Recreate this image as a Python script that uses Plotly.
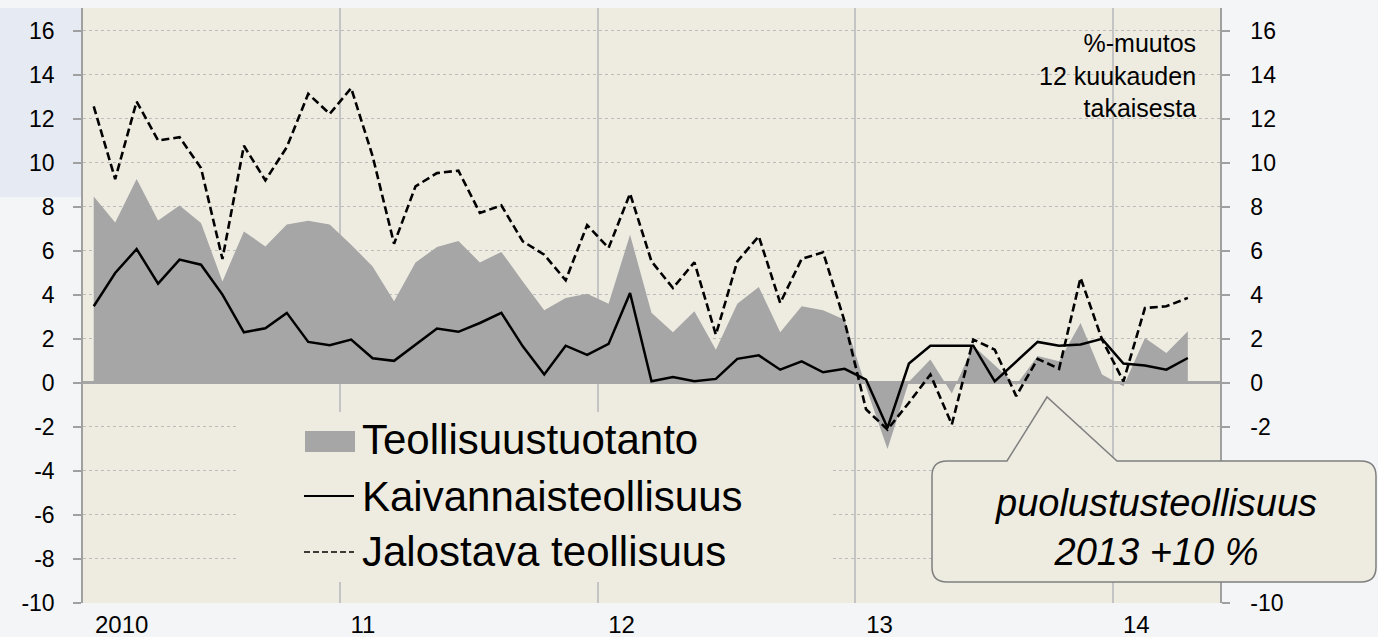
import plotly.graph_objects as go

# ---------------- data (Jan 2010 - Apr 2014, monthly, % change y/y) ----------------
months = [f"{y}-{m:02d}" for y in range(2010, 2015) for m in range(1, 13)][:52]

teollisuustuotanto = [
    8.47, 7.29, 9.26, 7.38, 8.06, 7.26, 4.61, 6.88, 6.20, 7.19, 7.37, 7.19,
    6.28, 5.29, 3.71, 5.47, 6.17, 6.45, 5.47, 5.95, 4.61, 3.30, 3.86, 4.05,
    3.60, 6.73, 3.18, 2.30, 3.25, 1.51, 3.60, 4.36, 2.30, 3.48, 3.30, 2.87,
    -0.20, -3.00, 0.05, 1.06, -0.48, 1.69, 0.80, -0.10, 1.22, 0.98, 2.72, 0.38,
    -0.15, 2.04, 1.36, 2.34,
]
kaivannaisteollisuus = [
    3.48, 4.99, 6.08, 4.51, 5.60, 5.37, 4.01, 2.30, 2.48, 3.18, 1.86, 1.71,
    1.97, 1.12, 1.00, 1.74, 2.47, 2.32, 2.72, 3.18, 1.66, 0.38, 1.69, 1.27,
    1.77, 4.08, 0.07, 0.27, 0.07, 0.18, 1.09, 1.25, 0.60, 0.98, 0.48, 0.64,
    0.15, -2.04, 0.88, 1.69, 1.69, 1.69, 0.07, 0.98, 1.86, 1.69, 1.74, 2.00,
    0.88, 0.79, 0.60, 1.13,
]
jalostava_teollisuus = [
    12.56, 9.26, 12.78, 11.01, 11.16, 9.76, 5.63, 10.77, 9.20, 10.71, 13.13, 12.22,
    13.39, 10.30, 6.32, 8.93, 9.53, 9.64, 7.72, 8.06, 6.43, 5.82, 4.66, 7.17,
    6.13, 8.60, 5.52, 4.31, 5.48, 2.19, 5.52, 6.66, 3.63, 5.63, 5.93, 2.80,
    -1.20, -2.12, -0.90, 0.38, -1.89, 1.97, 1.51, -0.60, 1.09, 0.64, 4.77, 1.97,
    0.07, 3.40, 3.48, 3.86,
]
series_names = ["Teollisuustuotanto", "Kaivannaisteollisuus", "Jalostava teollisuus"]
year_labels = ["2010", "11", "12", "13", "14"]
year_label_pos = [1.3, 12.55, 24.6, 36.63, 48.6]
y_ticks = list(range(-10, 17, 2))
# right-axis labels hidden behind the callout box in the reference
right_hidden = [-4, -6, -8]
unit_note = "%-muutos<br>12 kuukauden<br>takaisesta"
callout_text = "<i>puolustusteollisuus<br>2013 +10 %</i>"

# ---------------- layout geometry ----------------
FIG_W, FIG_H = 1378, 637
ML, MR, MT, MB = 83, 158, 8, 34
PW, PH = FIG_W - ML - MR, FIG_H - MT - MB
X_RANGE = [-0.5, 52.5]
Y_RANGE = [-10, 17.03]
FONT = "Liberation Sans, Arial, sans-serif"
PLOT_BG = "#EEECE1"
GREY_AREA = "#A6A6A6"


def PX(px):
    return (px - ML) / PW


def PY(py):
    return (FIG_H - MB - py) / PH


def XI(px):
    return X_RANGE[0] + (px - ML) / PW * (X_RANGE[1] - X_RANGE[0])


def YV(py):
    return Y_RANGE[0] + (FIG_H - MB - py) / PH * (Y_RANGE[1] - Y_RANGE[0])


x = list(range(len(months)))

fig = go.Figure()
fig.add_trace(go.Scatter(
    x=x, y=teollisuustuotanto, name=series_names[0], mode="lines",
    fill="tozeroy", fillcolor=GREY_AREA, line=dict(width=0, color=GREY_AREA),
    showlegend=False, hoverinfo="skip"))
fig.add_trace(go.Scatter(
    x=x, y=kaivannaisteollisuus, name=series_names[1], mode="lines",
    line=dict(color="black", width=2.5), showlegend=False))
fig.add_trace(go.Scatter(
    x=x, y=jalostava_teollisuus, name=series_names[2], mode="lines",
    line=dict(color="black", width=2.6, dash="8px,4px"), showlegend=False,
    yaxis="y2"))

axis_common = dict(
    range=Y_RANGE, tickvals=y_ticks,
    ticks="outside", ticklen=8, tickwidth=1.5, tickcolor="#A0A0A0",
    showline=True, linecolor="#A0A0A0", linewidth=1.5,
    tickfont=dict(family=FONT, size=23, color="black"),
    fixedrange=True, automargin=False,
)

fig.update_layout(
    width=FIG_W, height=FIG_H,
    margin=dict(l=ML, r=MR, t=MT, b=MB, pad=0, autoexpand=False),
    paper_bgcolor="#F4F5F7", plot_bgcolor=PLOT_BG,
    showlegend=False,
    xaxis=dict(
        range=X_RANGE, tickvals=year_label_pos, ticktext=year_labels,
        ticks="", showgrid=False, zeroline=False, showline=False,
        tickfont=dict(family=FONT, size=24, color="black"),
        ticklabelstandoff=5, automargin=False,
        minor=dict(tick0=-0.5, dtick=12, showgrid=True, gridcolor="#C4C4C4",
                   gridwidth=1.5, ticks=""),
        fixedrange=True,
    ),
    yaxis=dict(
        **axis_common, side="left", ticktext=[str(v) for v in y_ticks],
        showgrid=True, gridcolor="#BDBDBD", gridwidth=1, griddash="dot",
        zeroline=True, zerolinecolor=GREY_AREA, zerolinewidth=2.5,
        ticklabelstandoff=14,
    ),
    yaxis2=dict(
        **axis_common, side="right", overlaying="y",
        ticktext=["" if v in right_hidden else str(v) for v in y_ticks],
        showgrid=False, zeroline=False, ticklabelstandoff=16,
    ),
)

shapes = []
# light-blue block top-left behind labels
shapes.append(dict(type="rect", xref="paper", yref="paper", layer="below",
                   x0=PX(0), x1=PX(ML), y0=PY(197), y1=PY(MT),
                   fillcolor="#E6EAF3", line=dict(width=0)))
# legend background (covers gridlines, below traces)
shapes.append(dict(type="rect", xref="x", yref="y", layer="between",
                   x0=XI(237), x1=XI(832), y0=YV(582), y1=YV(412),
                   fillcolor=PLOT_BG, line=dict(width=0)))
# legend symbols
shapes.append(dict(type="rect", xref="paper", yref="paper", layer="above",
                   x0=PX(305), x1=PX(355), y0=PY(452), y1=PY(431),
                   fillcolor=GREY_AREA, line=dict(width=0)))
shapes.append(dict(type="line", xref="paper", yref="paper", layer="above",
                   x0=PX(304), x1=PX(354), y0=PY(496), y1=PY(496),
                   line=dict(color="black", width=2)))
shapes.append(dict(type="line", xref="paper", yref="paper", layer="above",
                   x0=PX(304), x1=PX(354), y0=PY(552), y1=PY(552),
                   line=dict(color="black", width=1.5, dash="6px,3px")))

# callout box with pointer
bx0, bx1, by0, by1, r = 932, 1376, 461, 582, 15
pts = [
    ("M", bx0 + r, by0), ("L", 1007, by0), ("L", 1047, 397), ("L", 1117, by0),
    ("L", bx1 - r, by0), ("Q", bx1, by0, bx1, by0 + r), ("L", bx1, by1 - r),
    ("Q", bx1, by1, bx1 - r, by1), ("L", bx0 + r, by1), ("Q", bx0, by1, bx0, by1 - r),
    ("L", bx0, by0 + r), ("Q", bx0, by0, bx0 + r, by0),
]
path = ""
for p in pts:
    cmd, coords = p[0], p[1:]
    xy = []
    for i in range(0, len(coords), 2):
        xy.append(f"{PX(coords[i]):.5f},{PY(coords[i + 1]):.5f}")
    path += cmd + " ".join(xy) + " "
path += "Z"
shapes.append(dict(type="path", xref="paper", yref="paper", layer="above",
                   path=path, fillcolor=PLOT_BG,
                   line=dict(color="#7F7F7F", width=1.5)))
fig.update_layout(shapes=shapes)

annotations = []
for name, yc in zip(series_names, [439, 496, 551]):
    annotations.append(dict(
        xref="paper", yref="paper", x=PX(360), y=PY(yc), xanchor="left",
        yanchor="middle", text=name, showarrow=False,
        font=dict(family=FONT, size=42, color="black")))
annotations.append(dict(
    xref="paper", yref="paper", x=PX(1198), y=PY(27), xanchor="right",
    yanchor="top", align="right", text=unit_note, showarrow=False,
    font=dict(family=FONT, size=25, color="black")))
annotations.append(dict(
    xref="paper", yref="paper", x=PX(1156), y=PY(527), xanchor="center",
    yanchor="middle", align="center", text=callout_text, showarrow=False,
    font=dict(family=FONT, size=38, color="black")))
fig.update_layout(annotations=annotations)

fig.write_html(
    "out.html",
    config={"displayModeBar": False},
    post_script="document.body.style.margin='0';document.body.style.overflow='hidden';",
)
